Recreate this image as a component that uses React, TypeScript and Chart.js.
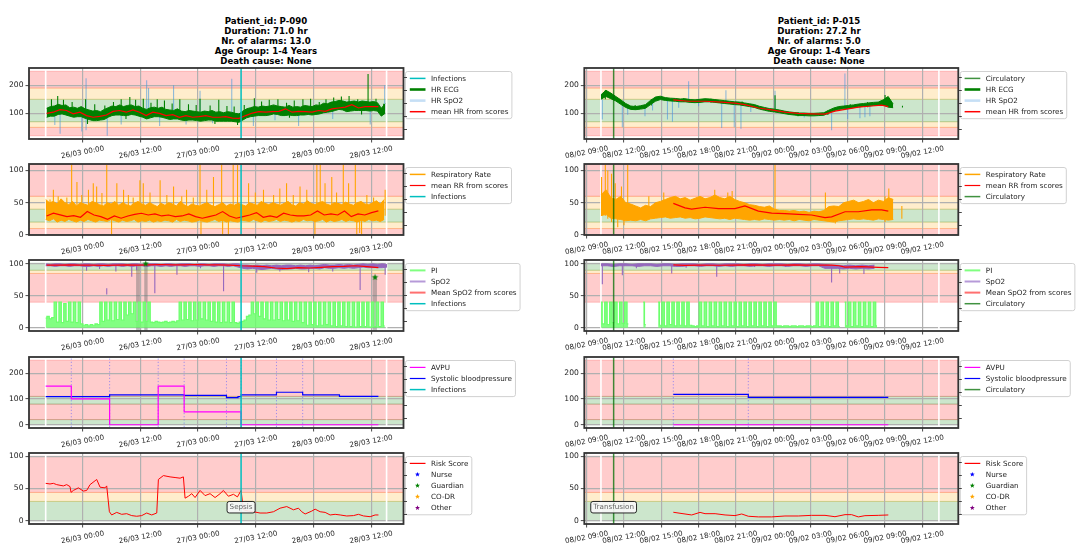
import React, { useEffect, useRef } from "react";
import { Chart, registerables } from "chart.js";

Chart.register(...registerables);

const FONT = "'DejaVu Sans', 'Liberation Sans', sans-serif";

// ---------------- titles ----------------
const leftTitle = ["Patient_id: P-090", "Duration: 71.0 hr", "Nr. of alarms: 13.0", "Age Group: 1-4 Years", "Death cause: None"];
const rightTitle = ["Patient_id: P-015", "Duration: 27.2 hr", "Nr. of alarms: 5.0", "Age Group: 1-4 Years", "Death cause: None"];

// ---------------- x axes (hours since 26/03 00:00 | hours since 08/02 00:00) ----------------
const leftXTicks = [0, 12, 24, 36, 48, 60];
const leftXLabels = ["26/03 00:00", "26/03 12:00", "27/03 00:00", "27/03 12:00", "28/03 00:00", "28/03 12:00"];
const leftXRange = [-11.17, 66.72];
const rightXTicks = [9, 12, 15, 18, 21, 24, 27, 30, 33, 36];
const rightXLabels = ["08/02 09:00", "08/02 12:00", "08/02 15:00", "08/02 18:00", "08/02 21:00", "09/02 00:00", "09/02 03:00", "09/02 06:00", "09/02 09:00", "09/02 12:00"];
const rightXRange = [8.81, 38.89];

// ---------------- y axes ----------------
const hrYTicks = [100, 200];
const hrYRange = [8.5, 261.5];
const rrYTicks = [0, 50, 100];
const rrYRange = [0, 110];
const spYTicks = [0, 50, 100];
const spYRange = [-5, 106];
const bpYTicks = [0, 100, 200];
const bpYRange = [-12.5, 262.5];
const rkYTicks = [0, 50, 100];
const rkYRange = [-5, 105];
const twinTicks = [0, 0.25, 0.5, 0.75, 1];
const twinRange = [-0.19, 1.19];

// ---------------- threshold bands ----------------
const hrEdges = [20, 50, 70, 150, 190, 250];
const hrKinds = ["r", "y", "g", "y", "r"];
const rrEdges = [0, 10, 20, 40, 60, 110];
const rrKinds = ["r", "y", "g", "y", "r"];
const spEdges = [40, 85, 90, 101];
const spKinds = ["r", "y", "g"];
const bpEdges = [0, 20, 80, 110, 250];
const bpKinds = ["g", "r", "g", "r"];
const rkEdges = [0, 30, 44, 100];
const rkKinds = ["g", "y", "r"];

// ---------------- legends ----------------
const hrLegendL = ["Infections", "HR ECG", "HR SpO2", "mean HR from scores"];
const rrLegendL = ["Respiratory Rate", "mean RR from scores", "Infections"];
const spLegendL = ["PI", "SpO2", "Mean SpO2 from scores", "Infections"];
const bpLegendL = ["AVPU", "Systolic bloodpressure", "Infections"];
const hrLegendR = ["Circulatory", "HR ECG", "HR SpO2", "mean HR from scores"];
const rrLegendR = ["Respiratory Rate", "mean RR from scores", "Circulatory"];
const spLegendR = ["PI", "SpO2", "Mean SpO2 from scores", "Circulatory"];
const bpLegendR = ["AVPU", "Systolic bloodpressure", "Circulatory"];
const rkLegend = ["Risk Score", "Nurse", "Guardian", "CO-DR", "Other"];

// ================= LEFT PATIENT (P-090) =================
const L_startT = -7.7;
const L_endT = 63.2;
const L_eventT = 32.94;
const L_eventLabel = "Sepsis";
const L_eventNoteY = 21;

// HR ECG: core envelope of the dense signal (every 0.8 h) + spikes
const L_hrEcgT0 = -7.5;
const L_hrEcgDt = 0.8;
const L_hrEcgHi = [
  118, 124, 126, 132, 128, 130, 120, 122, 118, 124,
  116, 112, 108, 110, 106, 114, 120, 126, 124, 130,
  124, 128, 130, 124, 126, 118, 114, 120, 122, 118,
  122, 114, 112, 110, 116, 108, 106, 110, 108, 106,
  104, 108, 106, 110, 104, 106, 102, 106, 104, 100,
  98, 108, 116, 120, 124, 122, 126, 124, 126, 130,
  126, 124, 122, 128, 122, 124, 122, 128, 126, 124,
  130, 128, 136, 134, 140, 142, 146, 144, 140, 142,
  144, 140, 144, 142, 140, 142, 138, 118, 134,
];
const L_hrEcgLo = [
  86, 90, 90, 96, 98, 94, 90, 86, 88, 88,
  82, 78, 74, 74, 76, 78, 86, 92, 94, 94,
  92, 92, 96, 94, 90, 86, 80, 84, 88, 88,
  86, 82, 78, 80, 80, 76, 74, 76, 76, 74,
  72, 74, 76, 76, 72, 72, 72, 72, 72, 70,
  68, 76, 84, 88, 90, 92, 92, 92, 94, 98,
  96, 92, 92, 94, 92, 92, 94, 94, 96, 94,
  96, 98, 102, 104, 106, 110, 114, 112, 106, 108,
  110, 110, 110, 110, 108, 110, 108, 90, 100,
];
const L_hrEcgSpT = [
  -6.5, -5.2, -4.0, -2.2, 0.6, 2.5, 4.6, 6.4, 8.0, 9.8, 11.0, 12.6, 14.2, 15.5, 17.0, 18.6, 20.2, 22.0, 23.6, 24.4,
  26.5, 28.3, 30.0, 31.5, 33.6, 35.7, 37.2, 38.8, 40.6, 42.4, 44.0, 45.8, 47.4, 49.2, 50.6, 52.2, 53.8, 55.4, 57.2, 59.35,
  61.0, 62.6, 1.0, 9.0, 27.5, 32.2, 43.0, 58.0,
];
const L_hrEcgSpLo = [
  100, 104, 100, 95, 90, 84, 88, 96, 100, 98, 96, 92, 92, 96, 94, 90, 88, 86, 84, 80,
  84, 82, 80, 78, 86, 96, 100, 100, 102, 100, 98, 100, 102, 104, 112, 118, 120, 116, 114, 110,
  112, 100, 62, 80, 62, 58, 84, 96,
];
const L_hrEcgSpHi = [
  150, 162, 148, 140, 150, 132, 128, 140, 150, 158, 148, 152, 138, 150, 146, 135, 150, 132, 130, 152,
  128, 148, 126, 124, 130, 154, 142, 148, 150, 138, 146, 150, 152, 140, 150, 156, 160, 162, 150, 240,
  152, 134, 80, 95, 76, 72, 96, 112,
];
// HR SpO2 (mostly hidden under ECG): visible spikes
const L_hrSpo2SpT = [-5.8, -4.7, -0.2, 0.7, 5.1, 8.0, 13.3, 13.7, 16.0, 18.9, 21.5, 24.4, 27.0, 31.0, 35.5, 40.0, 44.9, 52.0, 59.8, 62.8];
const L_hrSpo2SpLo = [58, 27, 35, 40, 20, 60, 100, 100, 55, 100, 60, 100, 65, 100, 55, 75, 55, 80, 60, 110];
const L_hrSpo2SpHi = [100, 100, 95, 225, 100, 100, 218, 190, 95, 200, 100, 180, 95, 223, 100, 110, 100, 120, 110, 200];
const L_meanHrT0 = -7.5;
const L_meanHrDt = 1.38;
const L_meanHr = [
  100, 104, 113, 110, 98, 104, 92, 86, 89, 94,
  107, 110, 104, 112, 104, 92, 104, 100, 92, 95,
  86, 92, 86, 88, 92, 86, 86, 88, 83, 82,
  92, 101, 106, 104, 106, 107, 116, 104, 107, 106,
  104, 110, 107, 116, 119, 122, 131, 119, 124, 124,
  124,
];

// Respiratory rate: envelope (every 0.8 h) + spikes
const L_rrT0 = -7.7;
const L_rrDt = 0.8;
const L_rrHi = [
  55, 50, 52, 48, 56, 50, 47, 52, 45, 50,
  48, 46, 52, 50, 47, 45, 50, 48, 52, 46,
  50, 47, 45, 49, 52, 48, 46, 50, 47, 44,
  49, 46, 50, 48, 45, 52, 47, 44, 48, 46,
  45, 48, 50, 46, 44, 47, 50, 45, 48, 46,
  49, 47, 45, 50, 48, 46, 52, 49, 47, 50,
  48, 46, 49, 52, 47, 45, 50, 48, 53, 49,
  47, 50, 52, 48, 46, 50, 49, 47, 51, 48,
  46, 50, 52, 48, 47, 50, 53, 48, 55,
];
const L_rrLo = [
  24, 22, 25, 20, 23, 21, 24, 22, 20, 23,
  21, 24, 22, 20, 23, 22, 21, 24, 22, 20,
  23, 21, 22, 24, 20, 22, 21, 23, 20, 22,
  21, 23, 22, 20, 24, 21, 23, 22, 20, 21,
  23, 21, 20, 22, 24, 21, 23, 20, 22, 21,
  20, 23, 22, 21, 24, 22, 20, 23, 21, 22,
  24, 21, 23, 22, 20, 22, 21, 24, 22, 23,
  21, 22, 24, 20, 23, 21, 22, 24, 21, 23,
  22, 20, 23, 21, 24, 22, 23, 21, 24,
];
const L_rrSpT = [
  -6.8, -6.1, -5.1, -3.3, -2.3, -1.2, -0.2, 1.2, 2.2, 2.9, 4.0, 5.0, 7.1, 8.5, 9.5, 10.5, 11.9, 12.6, 14.0, 16.1,
  17.5, 18.9, 20.6, 21.6, 23.0, 24.4, 25.8, 27.2, 28.9, 31.3, 32.2, 34.5, 35.9, 37.6, 39.7, 41.0, 42.4, 43.8, 45.2, 46.6,
  48.7, 49.4, 50.4, 51.8, 52.8, 54.2, 55.3, 56.7, 59.1, 60.5, 62.9,
  6.0, 24.6, 29.1, 30.3, 48.3, 57.0, 57.6, 58.0,
];
const L_rrSpLo = [
  30, 30, 30, 30, 30, 30, 30, 30, 30, 30, 30, 30, 30, 30, 30, 30, 30, 30, 30, 30,
  30, 30, 30, 30, 30, 30, 30, 30, 30, 30, 30, 30, 30, 30, 30, 30, 30, 30, 30, 30,
  30, 30, 30, 30, 30, 30, 30, 30, 30, 30, 30,
  0, 0, 0, 0, 0, 0, 3, 0,
];
const L_rrSpHi = [
  55, 70, 60, 58, 109, 82, 62, 70, 80, 75, 65, 109, 80, 70, 62, 58, 85, 80, 66, 85,
  62, 75, 60, 70, 58, 109, 70, 90, 109, 109, 109, 80, 66, 70, 62, 72, 80, 62, 75, 70,
  109, 109, 80, 90, 66, 109, 80, 109, 62, 58, 70,
  25, 25, 25, 25, 25, 25, 25, 25,
];
const L_meanRrT0 = -7.5;
const L_meanRrDt = 1.408;
const L_meanRr = [
  29.5, 33.7, 31.1, 28.5, 30, 27.5, 36.3, 31, 28.5, 24.4,
  29.5, 26, 29.5, 32, 33.7, 31, 32.6, 29.5, 31, 28.5,
  29.5, 32.6, 28.5, 26, 28.5, 31, 36.3, 29.5, 26, 28.5,
  31, 34.7, 27.5, 29.5, 27.5, 33.7, 31, 29.5, 29.5, 31,
  37.3, 31, 32.6, 31, 37.3, 28.5, 32.6, 31, 34.7, 37.3,
];

// SpO2: envelope (hourly) + dips
const L_spo2T0 = -7.7;
const L_spo2Dt = 1.0;
const L_spo2Hi = [
  100, 99, 100, 100, 99, 100, 100, 99, 100, 100,
  99, 100, 100, 99, 100, 100, 100, 99, 100, 100,
  99, 100, 100, 100, 99, 100, 100, 99, 100, 100,
  100, 99, 100, 100, 99, 100, 100, 100, 99, 100,
  100, 98, 98, 97, 98, 97, 98, 97, 98, 97,
  98, 98, 97, 98, 97, 98, 97, 98, 99, 98,
  98, 99, 98, 99, 98, 99, 100, 99, 100, 99,
  100, 99,
];
const L_spo2Lo = [
  97, 97, 96, 97, 97, 96, 97, 97, 96, 96,
  97, 96, 97, 96, 97, 97, 96, 97, 96, 97,
  97, 96, 97, 97, 96, 97, 96, 97, 97, 96,
  97, 97, 96, 97, 97, 96, 97, 97, 96, 97,
  95, 93, 92, 93, 92, 91, 92, 93, 92, 91,
  92, 92, 93, 92, 92, 93, 93, 92, 94, 93,
  93, 94, 93, 94, 93, 94, 95, 94, 94, 94,
  94, 95,
];
const L_spo2SpT = [0.8, 3.5, 5.0, 6.9, 10.2, 11.2, 15.0, 19.6, 24.5, 29.3, 36.2, 41.0, 47.0, 52.0, 57.7, 62.9];
const L_spo2SpLo = [89, 92, 52, 88, 80, 90, 54, 83, 93, 57, 86, 88, 87, 88, 59, 83];
const L_spo2SpHi = [97, 97, 62, 97, 97, 97, 97, 97, 97, 97, 95, 93, 92, 93, 94, 98];
const L_meanSpo2T0 = -7.5;
const L_meanSpo2Dt = 2.379;
const L_meanSpo2 = [98, 98, 98.5, 98, 98, 97.5, 98, 98.5, 98, 98.5, 99, 98.5, 98.5, 99, 98.5, 98.5, 98, 97, 96.5, 95.5, 93.5, 92.5, 94, 93.5, 94.5, 95.5, 96, 97, 95.5, 94];
// PI (every 0.5 h, alternating peak / baseline)
const L_piT0 = -7.7;
const L_piDt = 0.5;
const L_pi = [
  15, 18, 14, 16,
  40, 9, 40, 8, 38, 10, 40, 9, 40, 8, 40,
  6, 4, 5, 3, 5, 4, 6, 5,
  40, 10, 40, 12, 40, 11, 40, 13, 40, 12, 40, 20, 40, 22, 40, 10, 40, 9, 40, 10, 40,
  9, 8, 10, 9, 8, 9, 10, 8, 9, 10, 9, 11,
  40, 12, 40, 13, 40, 11, 40, 12, 40, 14, 40, 12, 40, 10, 40, 9, 40, 8, 40, 9, 40, 8, 40,
  8, 7, 9, 10, 12, 18, 20,
  40, 22, 40, 18, 40, 14, 40, 12, 40, 12, 40, 13, 40, 11, 40, 12, 40, 10, 40, 11, 40, 8,
  40, 4, 40, 5, 40, 3, 40, 4, 40, 5, 40, 3, 40, 2, 40, 3, 40, 2, 40, 2, 40, 1, 40, 2, 40, 2, 40, 1, 40, 2, 40, 2, 40, 3,
];
const L_alarmStart = [11.1, 12.8, 60.3];
const L_alarmEnd = [11.9, 13.5, 61.2];
const L_alarmTop = [97, 100, 79];
const L_guardianT = [13.1, 60.8];
const L_guardianV = [100, 79];

const L_avpuT = [-7.7, -2.37, 5.6, 15.7, 21.1, 32.94, 61.5];
const L_avpuV = [150, 100, 0, 150, 50, 0, 0];
const L_bpT = [-7.7, -2.37, 5.6, 21.1, 29.9, 32.3, 32.94, 40.3, 45.75, 53.4, 61.5];
const L_bpV = [109, 109, 116, 114, 105, 109, 116, 126, 116, 110, 110];
const L_obsT = [-2.37, 5.6, 15.7, 21.1, 29.9, 32.94, 40.3, 45.75];

const L_riskT = [
  -7.70, -6.80, -6.10, -5.41, -4.72, -4.02, -3.33, -2.64, -2.43, -1.94,
  -0.90, 0.14, 0.83, 1.53, 2.57, 2.91, 3.61, 4.65, 4.99, 5.55,
  6.03, 7.07, 8.11, 9.15, 10.19, 11.23, 12.27, 13.31, 14.36, 15.40,
  15.74, 16.78, 18.17, 19.21, 20.25, 20.94, 21.29, 21.98, 22.68, 23.37,
  24.41, 25.45, 26.49, 27.53, 28.57, 29.26, 30.30, 31.35, 32.18, 32.94,
  33.43, 34.47, 35.51, 36.89, 38.28, 39.67, 41.05, 42.44, 43.83, 44.87,
  45.56, 46.26, 47.64, 48.34, 49.38, 50.42, 51.46, 52.50, 53.54, 54.92,
  56.31, 57.35, 58.39, 59.78, 60.82, 61.51,
];
const L_riskV = [
  58, 57, 58, 56, 55, 54, 56, 53, 44, 47,
  51, 46, 47, 56, 62, 64, 52, 51, 54, 14,
  9, 13, 10, 11, 8, 7, 8, 12, 9, 12,
  64, 70, 68, 67, 66, 68, 35, 38, 42, 36,
  47, 39, 42, 36, 42, 47, 38, 41, 37, 47,
  17, 15, 14, 12, 12, 14, 19.5, 22, 17, 19.5,
  14, 10.5, 15, 18, 14, 13, 9, 10, 9, 7.4,
  8, 10, 7.5, 6.3, 9, 9,
];

// ================= RIGHT PATIENT (P-015) =================
const R_startT = 10.15;
const R_endT = 37.33;
const R_eventT = 11.17;
const R_eventLabel = "Transfusion";
const R_eventNoteY = 21;

const R_hrEcgT0 = 10.15;
const R_hrEcgDt = 0.3983;
const R_hrEcgHi = [
  166, 182, 172, 160, 148, 135, 126, 124, 127, 131,
  146, 158, 161, 156, 154, 153, 151, 152, 149, 148,
  150, 152, 151, 149, 147, 145, 143, 141, 140, 137,
  134, 131, 125, 121, 117, 115, 112, 108, 105, 103,
  101, 101, 100, 100, 101, 102, 111, 119, 124, 126,
  128, 130, 133, 135, 137, 139, 140, 148, 160, 133,
];
const R_hrEcgLo = [
  150, 160, 152, 144, 132, 121, 114, 113, 115, 118,
  131, 143, 149, 146, 144, 143, 141, 141, 139, 138,
  139, 141, 141, 139, 137, 135, 133, 131, 130, 127,
  124, 121, 115, 111, 107, 105, 102, 99, 96, 94,
  92, 92, 91, 91, 92, 93, 101, 109, 114, 116,
  118, 120, 123, 125, 126, 128, 129, 130, 122, 120,
];
const R_hrEcgSpT = [10.5, 12.9, 14.2, 16.8, 19.0, 21.5, 24.15, 26.0, 28.4, 30.2, 31.6, 33.0, 34.4];
const R_hrEcgSpLo = [150, 112, 128, 140, 138, 128, 110, 90, 94, 116, 122, 130, 121];
const R_hrEcgSpHi = [182, 130, 150, 154, 152, 142, 164, 104, 110, 132, 140, 165, 127];
const R_hrSpo2SpT = [10.26, 11.87, 12.3, 13.69, 14.3, 15.5, 15.9, 16.4, 17.2, 18.0, 19.86, 20.2, 20.87, 21.41, 22.2, 24.15, 26.5, 28.7, 29.77, 29.99, 30.98, 31.38, 31.78];
const R_hrSpo2SpLo = [78, 50, 95, 90, 110, 78, 70, 120, 143, 125, 48, 138, 50, 45, 105, 108, 85, 40, 120, 80, 82, 86, 90];
const R_hrSpo2SpHi = [150, 135, 120, 122, 140, 148, 146, 145, 214, 145, 140, 182, 136, 134, 128, 180, 97, 102, 242, 121, 126, 128, 130];
const R_meanHrT = [15.97, 17.18, 18.52, 19.86, 20.93, 21.73, 22.81, 23.88, 24.95, 26.02, 27.09, 28.17, 28.97, 29.78, 30.85, 31.92, 32.72, 33.26];
const R_meanHrV = [148, 143, 143, 140, 136, 131, 119, 112, 104, 100, 98, 97, 108, 114, 122, 126, 129, 124];

const R_rrT0 = 10.15;
const R_rrDt = 0.3985;
const R_rrHi = [
  62, 70, 58, 55, 60, 50, 48, 45, 42, 46,
  44, 50, 52, 55, 58, 60, 56, 58, 54, 57,
  60, 56, 58, 62, 58, 56, 60, 55, 52, 50,
  47, 46, 44, 43, 45, 40, 38, 38, 37, 38,
  36, 37, 35, 37, 36, 38, 44, 45, 44, 50,
  52, 54, 50, 52, 55, 50, 54, 52, 58, 55,
];
const R_rrLo = [
  30, 32, 26, 25, 24, 22, 23, 22, 24, 22,
  25, 26, 27, 28, 26, 27, 28, 26, 27, 25,
  26, 28, 27, 26, 25, 26, 24, 26, 25, 24,
  23, 24, 23, 25, 24, 23, 24, 23, 24, 22,
  24, 23, 22, 24, 23, 22, 21, 20, 22, 23,
  24, 25, 24, 25, 24, 23, 25, 24, 23, 24,
];
const R_rrSpT = [10.2, 10.5, 10.7, 11.0, 11.3, 11.5, 11.8, 12.0, 12.3, 14.0, 15.2, 19.3, 20.35, 20.7, 24.15, 28.2, 29.0, 33.0, 33.3, 34.35];
const R_rrSpLo = [30, 30, 25, 20, 35, 12, 30, 15, 40, 30, 30, 35, 30, 30, 30, 25, 18, 20, 30, 25];
const R_rrSpHi = [90, 109, 100, 95, 80, 30, 75, 35, 109, 60, 66, 70, 66, 68, 109, 66, 30, 60, 72, 45];
const R_meanRrT = [15.97, 16.91, 17.45, 18.52, 19.59, 20.93, 21.73, 22.81, 23.88, 24.95, 26.02, 27.09, 28.17, 28.7, 29.78, 30.85, 31.92, 32.72, 33.26];
const R_meanRrV = [49, 42, 40, 43, 41, 41, 45, 37, 34, 33, 32, 31, 27, 28, 36, 36, 39, 39, 37];

const R_spo2T0 = 10.15;
const R_spo2Dt = 0.5;
const R_spo2Hi = [
  100, 100, 99, 100, 100, 99, 100, 100, 100, 99,
  100, 100, 99, 100, 100, 100, 99, 100, 100, 99,
  100, 100, 100, 99, 100, 100, 99, 100, 100, 100,
  99, 100, 100, 99, 100, 100, 99, 98, 98, 97,
  98, 97, 98, 97, 98,
];
const R_spo2Lo = [
  97, 97, 96, 97, 97, 97, 96, 97, 97, 96,
  97, 97, 96, 96, 97, 97, 96, 97, 97, 96,
  97, 96, 97, 97, 96, 97, 97, 96, 97, 97,
  96, 97, 97, 96, 97, 97, 93, 93, 93, 92,
  93, 92, 93, 92, 93,
];
const R_spo2SpT = [10.26, 11.87, 13.0, 15.84, 17.0, 19.46, 22.5, 25.0, 28.7, 29.35, 31.3];
const R_spo2SpLo = [68, 82, 93, 85, 94, 80, 95, 95, 71, 85, 84];
const R_spo2SpHi = [98, 98, 98, 98, 98, 98, 98, 98, 97, 96, 95];
const R_meanSpo2T = [15.97, 16.9, 17.98, 19.6, 21.73, 24.4, 25.7, 27.1, 28.7, 29.3, 29.78, 31.1, 32.45, 33.26];
const R_meanSpo2V = [98.5, 97.5, 98, 97.8, 98.5, 98, 98.5, 98, 98, 97, 95, 95.5, 94.5, 94];
const R_piT0 = 10.15;
const R_piDt = 0.2;
const R_pi = [
  40, 6, 40, 5, 40, 8, 40, 6, 40, 7, 40, 6,
  null, null, null, null, null,
  40, 5,
  null, null, null, null,
  40, 4, 40, 3, 40, 5, 40, 3, 40, 4, 40, 3, 40, 4,
  3, 2, 3,
  40, 3, 40, 2, 40, 3, 40, 2, 40, 3, 40, 2, 40, 3, 40, 2, 40, 3, 40, 2, 40, 3, 40, 2, 40, 3, 40, 2, 40,
  3, 40,
  3, 3, 2, 3, 3, 2, 3, 3, 2, 3, 3, 2, 3, 3, 2, 3,
  40, 2, 40, 3, 40, 2, 40, 3, 40, 2,
  null,
  40, 3, 40, 2, 40, 3, 40, 2, 40, 3, 40, 2, 40, 3,
];

const R_avpuT = [15.97, 33.26];
const R_avpuV = [0, 0];
const R_bpT = [15.97, 22.0, 33.26];
const R_bpV = [118, 106.5, 106.5];
const R_obsT = [15.97, 22.0];

const R_riskT = [15.97, 16.91, 17.45, 18.12, 18.52, 19.33, 20.13, 20.93, 21.47, 22.0, 22.81, 23.88, 24.95, 26.02, 27.09, 28.17, 28.97, 29.78, 30.31, 30.85, 31.38, 32.45, 33.26];
const R_riskV = [13.2, 10.5, 9, 13, 11, 11, 9, 8, 10.5, 7, 6, 6, 7.4, 7.4, 8.4, 8.4, 6.3, 9.5, 9.5, 6, 7.9, 8.4, 9];

// ---------------- layout & style ----------------
const ROW_TOPS = [68, 164, 260, 357, 453];
const PLOT_H = 71;
const PAD_TOP = 8;
const X_AXIS_H = 24;
const CANVAS_H = PAD_TOP + PLOT_H + X_AXIS_H;
const TWIN_W = 4;
const COLS = [
  { left: 0, width: 545, plotL: 29, plotR: 403.5, xr: leftXRange, xt: leftXTicks, xl: leftXLabels, titleX: 266 },
  { left: 545, width: 546, plotL: 584.3, plotR: 958.3, xr: rightXRange, xt: rightXTicks, xl: rightXLabels, titleX: 819 },
];
const BAND_COLORS: any = { r: "rgba(255,0,0,0.2)", y: "rgba(255,165,0,0.2)", g: "rgba(0,128,0,0.2)" };
const GRID = "#b0b0b0";
const CYAN = "#00bfbf";
const CIRC = "rgba(0,110,0,0.75)";
const RED = "#ff0000";
const ECG = "#008000";
const ORANGE = "#ffa500";
const PURPLE = "#9467bd";
const LIME = "#6cff6c";
const HRSPO2 = "rgba(70,150,220,0.6)";

type Pt = { x: number; y: number | null };
const even = (t0: number, dt: number, vals: (number | null)[]): Pt[] => vals.map((v, i) => ({ x: t0 + i * dt, y: v }));
const pairs = (ts: number[], vs: number[]): Pt[] => ts.map((t, i) => ({ x: t, y: vs[i] }));
const vline = (t: number): Pt[] => [{ x: t, y: -1000 }, { x: t, y: 1000 }];
const segs = (ts: number[], lo: number[], hi: number[]): Pt[] => {
  const out: Pt[] = [];
  ts.forEach((t, i) => {
    out.push({ x: t, y: lo[i] }, { x: t, y: hi[i] }, { x: t, y: null });
  });
  return out;
};

function drawStar(g: CanvasRenderingContext2D, cx: number, cy: number, r: number, color: string) {
  g.beginPath();
  for (let k = 0; k < 10; k++) {
    const a = -Math.PI / 2 + (k * Math.PI) / 5;
    const rr = k % 2 === 0 ? r : r * 0.42;
    g.lineTo(cx + rr * Math.cos(a), cy + rr * Math.sin(a));
  }
  g.closePath();
  g.fillStyle = color;
  g.fill();
}
function starCanvas(color: string, r: number) {
  const s = Math.ceil(r * 2 + 2);
  const c = document.createElement("canvas");
  c.width = s;
  c.height = s;
  drawStar(c.getContext("2d")!, s / 2, s / 2, r, color);
  return c;
}
function roundRect(g: CanvasRenderingContext2D, x: number, y: number, w: number, h: number, r: number) {
  g.beginPath();
  g.moveTo(x + r, y);
  g.lineTo(x + w - r, y);
  g.arcTo(x + w, y, x + w, y + r, r);
  g.lineTo(x + w, y + h - r);
  g.arcTo(x + w, y + h, x + w - r, y + h, r);
  g.lineTo(x + r, y + h);
  g.arcTo(x, y + h, x, y + h - r, r);
  g.lineTo(x, y + r);
  g.arcTo(x, y, x + r, y, r);
  g.closePath();
}

function lineDs(data: Pt[], color: string, width: number, order: number, extra: any = {}) {
  return { data, borderColor: color, borderWidth: width, order, ...extra };
}
// filled envelope: lower line, then upper line filled down to it
function band(lo: Pt[], hi: Pt[], color: string, order: number) {
  return [lineDs(lo, color, 1, order), lineDs(hi, color, 1, order, { fill: "-1", backgroundColor: color })];
}
function bounds(start: number, end: number) {
  return [lineDs(vline(start), "#ffffff", 1.6, 20), lineDs(vline(end), "#ffffff", 1.6, 20)];
}
function leg(labels: string[], styles: any[]) {
  return labels.map((label, i) => ({ label, ...styles[i] }));
}

// ---------------- panel specs ----------------
function makeSpecs() {
  const specs: any[] = [];
  const sides = [
    {
      col: 0, ev: L_eventT, evColor: CYAN, start: L_startT, end: L_endT, note: L_eventLabel, noteY: L_eventNoteY,
      hrLo: even(L_hrEcgT0, L_hrEcgDt, L_hrEcgLo), hrHi: even(L_hrEcgT0, L_hrEcgDt, L_hrEcgHi),
      hrSp: segs(L_hrEcgSpT, L_hrEcgSpLo, L_hrEcgSpHi),
      hrSpo2: segs(L_hrSpo2SpT, L_hrSpo2SpLo, L_hrSpo2SpHi),
      meanHr: even(L_meanHrT0, L_meanHrDt, L_meanHr),
      rrLo: even(L_rrT0, L_rrDt, L_rrLo), rrHi: even(L_rrT0, L_rrDt, L_rrHi), rrSp: segs(L_rrSpT, L_rrSpLo, L_rrSpHi),
      meanRr: even(L_meanRrT0, L_meanRrDt, L_meanRr),
      spLo: even(L_spo2T0, L_spo2Dt, L_spo2Lo), spHi: even(L_spo2T0, L_spo2Dt, L_spo2Hi), spSp: segs(L_spo2SpT, L_spo2SpLo, L_spo2SpHi),
      meanSpo2: even(L_meanSpo2T0, L_meanSpo2Dt, L_meanSpo2),
      pi: even(L_piT0, L_piDt, L_pi),
      avpu: pairs(L_avpuT, L_avpuV), bp: pairs(L_bpT, L_bpV), obs: L_obsT,
      risk: pairs(L_riskT, L_riskV),
      spans: { s: L_alarmStart, e: L_alarmEnd, top: L_alarmTop },
      stars: pairs(L_guardianT, L_guardianV),
      legends: [hrLegendL, rrLegendL, spLegendL, bpLegendL, rkLegend],
    },
    {
      col: 1, ev: R_eventT, evColor: CIRC, start: R_startT, end: R_endT, note: R_eventLabel, noteY: R_eventNoteY,
      hrLo: even(R_hrEcgT0, R_hrEcgDt, R_hrEcgLo), hrHi: even(R_hrEcgT0, R_hrEcgDt, R_hrEcgHi),
      hrSp: segs(R_hrEcgSpT, R_hrEcgSpLo, R_hrEcgSpHi),
      hrSpo2: segs(R_hrSpo2SpT, R_hrSpo2SpLo, R_hrSpo2SpHi),
      meanHr: pairs(R_meanHrT, R_meanHrV),
      rrLo: even(R_rrT0, R_rrDt, R_rrLo), rrHi: even(R_rrT0, R_rrDt, R_rrHi), rrSp: segs(R_rrSpT, R_rrSpLo, R_rrSpHi),
      meanRr: pairs(R_meanRrT, R_meanRrV),
      spLo: even(R_spo2T0, R_spo2Dt, R_spo2Lo), spHi: even(R_spo2T0, R_spo2Dt, R_spo2Hi), spSp: segs(R_spo2SpT, R_spo2SpLo, R_spo2SpHi),
      meanSpo2: pairs(R_meanSpo2T, R_meanSpo2V),
      pi: even(R_piT0, R_piDt, R_pi),
      avpu: pairs(R_avpuT, R_avpuV), bp: pairs(R_bpT, R_bpV), obs: R_obsT,
      risk: pairs(R_riskT, R_riskV),
      spans: null,
      stars: null,
      legends: [hrLegendR, rrLegendR, spLegendR, bpLegendR, rkLegend],
    },
  ];
  for (const s of sides) {
    const evLeg = { color: s.evColor, width: 1.5 };
    const ev = lineDs(vline(s.ev), s.evColor, 1.5, 0);
    const wb = bounds(s.start, s.end);
    specs.push({
      col: s.col, row: 0, yr: hrYRange, yt: hrYTicks, edges: hrEdges, kinds: hrKinds,
      datasets: [
        ev,
        lineDs(s.meanHr, RED, 1.2, 1),
        ...band(s.hrLo, s.hrHi, ECG, 2),
        lineDs(s.hrSp, ECG, 1.1, 2),
        lineDs(s.hrSpo2, HRSPO2, 1.1, 3),
        ...wb,
      ],
      legend: leg(s.legends[0], [evLeg, { color: ECG, width: 2.6 }, { color: "#c6dff5", width: 2.6 }, { color: RED, width: 1.5 }]),
    });
    specs.push({
      col: s.col, row: 1, yr: rrYRange, yt: rrYTicks, edges: rrEdges, kinds: rrKinds,
      datasets: [ev, lineDs(s.meanRr, RED, 1.2, 1), ...band(s.rrLo, s.rrHi, ORANGE, 2), lineDs(s.rrSp, ORANGE, 1.1, 2), ...wb],
      legend: leg(s.legends[1], [{ color: ORANGE, width: 1.5 }, { color: RED, width: 1.2 }, evLeg]),
    });
    specs.push({
      col: s.col, row: 2, yr: spYRange, yt: spYTicks, edges: spEdges, kinds: spKinds,
      datasets: [
        ev,
        lineDs(s.meanSpo2, RED, 1.2, 1),
        ...band(s.spLo, s.spHi, PURPLE, 2),
        lineDs(s.spSp, PURPLE, 1.1, 2),
        lineDs(s.pi, LIME, 1.2, 3, { stepped: "middle", fill: "origin", backgroundColor: "rgba(108,255,108,0.85)" }),
        ...wb,
      ],
      legend: leg(s.legends[2], [{ color: "#80ff80", width: 2 }, { color: "#b69ad8", width: 2 }, { color: "#ff7070", width: 2 }, evLeg]),
      spans: s.spans, stars: s.stars,
    });
    specs.push({
      col: s.col, row: 3, yr: bpYRange, yt: bpYTicks, edges: bpEdges, kinds: bpKinds,
      datasets: [
        ev,
        lineDs(s.avpu, "#ff00ff", 1.2, 1, { stepped: "before" }),
        lineDs(s.bp, "#0000ff", 1.2, 2, { stepped: "before" }),
        ...s.obs.map((t: number) => lineDs(vline(t), "rgba(90,90,255,0.65)", 0.9, 5, { borderDash: [1.2, 2] })),
        ...wb,
      ],
      legend: leg(s.legends[3], [{ color: "#ff00ff", width: 1.2 }, { color: "#0000ff", width: 1.2 }, evLeg]),
    });
    specs.push({
      col: s.col, row: 4, yr: rkYRange, yt: rkYTicks, edges: rkEdges, kinds: rkKinds,
      datasets: [ev, lineDs(s.risk, RED, 1, 1), ...wb],
      legend: leg(s.legends[4], [
        { color: RED, width: 1.2 },
        { color: "#0000ff", star: true },
        { color: "#008000", star: true },
        { color: "#ffa500", star: true },
        { color: "#800080", star: true },
      ]),
      notes: [{ x: s.ev, y: s.noteY, text: s.note }],
    });
  }
  return specs;
}
const SPECS = makeSpecs();

// ---------------- chart config ----------------
function buildConfig(spec: any): any {
  const col = COLS[spec.col];
  const datasets: any[] = spec.datasets.map((d: any) => ({
    type: "line", pointRadius: 0, tension: 0, fill: false, spanGaps: false, clip: 0, ...d,
  }));
  if (spec.stars) {
    datasets.push({
      type: "line", data: spec.stars, showLine: false, pointRadius: 4, pointStyle: starCanvas("#008000", 3.4), order: -1, clip: false,
    });
  }
  const yw = col.plotL - col.left;
  const padRight = col.width - (col.plotR - col.left) - TWIN_W;

  const decor = {
    id: "decor",
    beforeDraw(chart: any) {
      const { ctx, chartArea: a, scales } = chart;
      const ys = scales.y;
      ctx.save();
      ctx.beginPath();
      ctx.rect(a.left, a.top, a.right - a.left, a.bottom - a.top);
      ctx.clip();
      for (let k = 0; k < spec.kinds.length; k++) {
        const c = BAND_COLORS[spec.kinds[k]];
        const y1 = ys.getPixelForValue(spec.edges[k + 1]);
        const y2 = ys.getPixelForValue(spec.edges[k]);
        ctx.fillStyle = c;
        ctx.fillRect(a.left, y1, a.right - a.left, y2 - y1);
        ctx.strokeStyle = c;
        ctx.lineWidth = 1;
        ctx.strokeRect(a.left - 2, y1, a.right - a.left + 4, y2 - y1);
      }
      ctx.restore();
      const items = spec.legend;
      ctx.save();
      ctx.font = `7.2px ${FONT}`;
      let tw = 0;
      for (const it of items) tw = Math.max(tw, ctx.measureText(it.label).width);
      const x0 = a.right + 2;
      const y0 = a.top + 3.5;
      const w = 25.5 + tw + 3.5;
      const h = items.length * 11.1 + 2.8;
      roundRect(ctx, x0, y0, w, h, 2.2);
      ctx.fillStyle = "rgba(255,255,255,0.8)";
      ctx.fill();
      ctx.strokeStyle = "#cccccc";
      ctx.lineWidth = 0.9;
      ctx.stroke();
      items.forEach((it: any, k: number) => {
        const cy = y0 + 6.9 + k * 11.1;
        if (it.star) {
          drawStar(ctx, x0 + 12, cy, 2.6, it.color);
        } else {
          ctx.strokeStyle = it.color;
          ctx.lineWidth = it.width;
          ctx.beginPath();
          ctx.moveTo(x0 + 4.3, cy);
          ctx.lineTo(x0 + 20, cy);
          ctx.stroke();
        }
        ctx.fillStyle = "#222";
        ctx.textAlign = "left";
        ctx.textBaseline = "middle";
        ctx.fillText(it.label, x0 + 25.5, cy + 0.3);
      });
      ctx.restore();
    },
    beforeDatasetsDraw(chart: any) {
      if (!spec.spans) return;
      const { ctx, chartArea: a, scales } = chart;
      ctx.save();
      ctx.beginPath();
      ctx.rect(a.left, a.top, a.right - a.left, a.bottom - a.top);
      ctx.clip();
      ctx.fillStyle = "rgba(110,110,110,0.45)";
      for (let k = 0; k < spec.spans.s.length; k++) {
        const x1 = scales.x.getPixelForValue(spec.spans.s[k]);
        const x2 = scales.x.getPixelForValue(spec.spans.e[k]);
        const yt = scales.y.getPixelForValue(spec.spans.top[k]);
        ctx.fillRect(x1, yt, x2 - x1, a.bottom - yt);
      }
      ctx.restore();
    },
    afterDraw(chart: any) {
      const { ctx, chartArea: a, scales } = chart;
      ctx.save();
      for (const n of spec.notes || []) {
        const cx = scales.x.getPixelForValue(n.x);
        const cy = scales.y.getPixelForValue(n.y);
        ctx.font = `7.2px ${FONT}`;
        const w = ctx.measureText(n.text).width + 5;
        const h = 11.5;
        roundRect(ctx, cx - w / 2, cy - h / 2, w, h, 2.2);
        ctx.fillStyle = "rgba(248,248,248,0.9)";
        ctx.fill();
        ctx.strokeStyle = "#111";
        ctx.lineWidth = 0.9;
        ctx.stroke();
        ctx.fillStyle = "#666";
        ctx.textAlign = "center";
        ctx.textBaseline = "middle";
        ctx.fillText(n.text, cx, cy + 0.3);
      }
      ctx.strokeStyle = "#333";
      ctx.lineWidth = 1.8;
      ctx.strokeRect(a.left, a.top, a.right - a.left, a.bottom - a.top);
      ctx.font = `7.2px ${FONT}`;
      ctx.fillStyle = "#222";
      ctx.textAlign = "center";
      ctx.textBaseline = "middle";
      col.xt.forEach((v: number, i: number) => {
        const px = scales.x.getPixelForValue(v);
        ctx.save();
        ctx.translate(px, a.bottom + 13.5);
        ctx.rotate((-10.5 * Math.PI) / 180);
        ctx.fillText(col.xl[i], 0, 0);
        ctx.restore();
      });
      ctx.restore();
    },
  };

  const gridOpts = { color: GRID, lineWidth: 1.2, drawTicks: true, tickLength: 3.5, tickColor: "#333", tickWidth: 0.9, offset: false };
  return {
    type: "line",
    data: { datasets },
    plugins: [decor],
    options: {
      responsive: false,
      maintainAspectRatio: false,
      animation: false,
      devicePixelRatio: 1,
      events: [],
      layout: { padding: { top: PAD_TOP, left: 0, right: padRight, bottom: 0 } },
      plugins: { legend: { display: false }, tooltip: { enabled: false }, title: { display: false }, filler: { propagate: false } },
      scales: {
        x: {
          type: "linear", position: "bottom", min: col.xr[0], max: col.xr[1], offset: false,
          afterBuildTicks: (s: any) => { s.ticks = col.xt.map((v: number) => ({ value: v })); },
          afterFit: (s: any) => { s.height = X_AXIS_H; },
          ticks: { display: false },
          grid: gridOpts,
          border: { display: false },
        },
        y: {
          type: "linear", position: "left", min: spec.yr[0], max: spec.yr[1],
          afterBuildTicks: (s: any) => { s.ticks = spec.yt.map((v: number) => ({ value: v })); },
          afterFit: (s: any) => { s.width = yw; },
          ticks: { font: { family: FONT, size: 7.6 }, color: "#222", padding: 2, callback: (v: any) => String(v) },
          grid: gridOpts,
          border: { display: false },
        },
        y2: {
          type: "linear", position: "right", min: twinRange[0], max: twinRange[1],
          afterBuildTicks: (s: any) => { s.ticks = twinTicks.map((v: number) => ({ value: v })); },
          afterFit: (s: any) => { s.width = TWIN_W; },
          ticks: { display: false },
          grid: { drawOnChartArea: false, drawTicks: true, tickLength: 3.5, tickColor: "#333", tickWidth: 0.9, color: "#333" },
          border: { display: false },
        },
      },
    },
  };
}

function Panel({ spec }: { spec: any }) {
  const ref = useRef<HTMLCanvasElement | null>(null);
  const col = COLS[spec.col];
  const top = ROW_TOPS[spec.row] - PAD_TOP;
  useEffect(() => {
    if (!ref.current) return;
    const chart = new Chart(ref.current, buildConfig(spec));
    return () => chart.destroy();
  }, [spec]);
  return (
    <canvas
      ref={ref}
      width={col.width}
      height={CANVAS_H}
      style={{ position: "absolute", left: col.left, top, width: col.width, height: CANVAS_H, display: "block" }}
    />
  );
}

function Title({ lines, cx }: { lines: string[]; cx: number }) {
  return (
    <div
      style={{
        position: "absolute", left: cx - 150, top: 15.5, width: 300, textAlign: "center",
        font: `bold 8.6px ${FONT}`, lineHeight: "10.1px", color: "#000", whiteSpace: "nowrap",
      }}
    >
      {lines.map((l) => (
        <div key={l}>{l}</div>
      ))}
    </div>
  );
}

export default function App() {
  return (
    <div style={{ position: "absolute", left: 0, top: 0, width: 1091, height: 543, background: "#fff", overflow: "hidden" }}>
      <Title lines={leftTitle} cx={COLS[0].titleX} />
      <Title lines={rightTitle} cx={COLS[1].titleX} />
      {SPECS.map((s, i) => (
        <Panel key={i} spec={s} />
      ))}
    </div>
  );
}
